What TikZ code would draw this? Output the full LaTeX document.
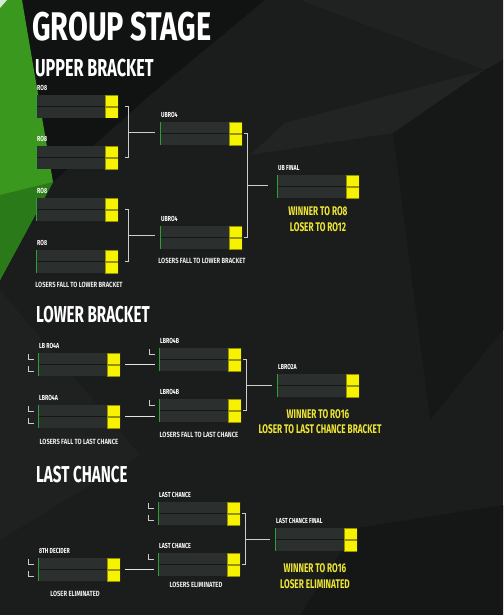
\documentclass[tikz,border=0pt]{standalone}
\usepackage{fontspec}
\setmainfont{Fira Sans}[FakeStretch=0.72]
\newfontfamily\headfont{Fira Sans}[FakeStretch=0.66]
\newfontfamily\notefont{Fira Sans}[FakeStretch=0.78]
\usetikzlibrary{positioning,calc}

\definecolor{bgbase}{HTML}{1B1C1C}
\definecolor{bgblack}{HTML}{111212}
\definecolor{bglight}{HTML}{222424}
\definecolor{barfill}{HTML}{2B2F2E}
\definecolor{gapfill}{HTML}{151716}
\definecolor{yel}{HTML}{F7F300}
\definecolor{yeltext}{HTML}{EDE634}
\definecolor{grn}{HTML}{2E9E36}
\definecolor{bggreen}{HTML}{3A981F}
\definecolor{bggreendark}{HTML}{2B7A1A}
\definecolor{linegray}{HTML}{CDCDCD}

\tikzset{
  match/.style={minimum width=82pt,minimum height=23pt,inner sep=0pt,outer sep=0pt,
    anchor=north west,fill=gapfill,
    path picture={
      \fill[barfill] (path picture bounding box.north west) rectangle ++(69pt,-11pt);
      \fill[barfill] ([yshift=-12pt]path picture bounding box.north west) rectangle ++(69pt,-11pt);
      \filldraw[fill=yel,draw=yel!60!black,line width=0.4pt] ([xshift=69.5pt,yshift=-0.2pt]path picture bounding box.north west) rectangle ++(12.3pt,-10.8pt);
      \filldraw[fill=yel,draw=yel!60!black,line width=0.4pt] ([xshift=69.5pt,yshift=-12pt]path picture bounding box.north west) rectangle ++(12.3pt,-10.8pt);
      \draw[grn,line width=1pt] ([xshift=0.5pt]path picture bounding box.north west) -- ++(0,-23pt);
    }},
  lbl/.style={anchor=south west,inner sep=0pt,label distance=0pt,xshift=1pt,yshift=4.5pt,text=white,font=\bfseries\fontsize{7.3}{8}\selectfont},
  note/.style={inner sep=0pt,text=white!92!black,font=\notefont\bfseries\fontsize{7.5}{8}\selectfont},
  result/.style={inner sep=0pt,text=yeltext,font=\headfont\bfseries\fontsize{12.5}{13}\selectfont},
  heading/.style={anchor=west,inner sep=0pt,text=white,font=\headfont\bfseries\fontsize{24.5}{26}\selectfont},
  link/.style={draw=linegray,line width=0.8pt},
  wlink/.style={draw=white!90!black,line width=1.2pt},
  lmark/.style={draw=linegray,line width=0.7pt}
}

% L mark in front of a row of a match
\newcommand{\lrow}[2]{\draw[lmark] ([xshift=-10pt,yshift=#2]#1.north west) |- ++(6pt,-5pt);}

\begin{document}
\begin{tikzpicture}[x=1pt,y=-1pt]
\useasboundingbox (0,0) rectangle (503,615);
% background
\fill[bgbase] (0,0) rectangle (503,615);
\fill[bgblack] (20,0) -- (265,0) -- (150,95) -- (53,182) -- cycle;
\fill[bglight] (250,155) -- (285,123) -- (485,70) -- (393,133) -- cycle;
\fill[bglight!70!bgbase] (300,0) -- (503,0) -- (503,60) -- (485,70) -- cycle;
\fill[bgblack!50!bgbase] (393,133) -- (485,70) -- (503,60) -- (503,330) -- (430,420) -- cycle;
\fill[bglight!60!bgbase] (0,290) -- (140,455) -- (0,540) -- cycle;
\fill[bgblack!60!bgbase] (357,528) -- (503,505) -- (503,615) -- (300,615) -- cycle;
\fill[bggreen] (0,0) -- (22,0) -- (53,182) -- (0,280) -- cycle;
\fill[bggreendark] (0,195) -- (53,182) -- (0,280) -- cycle;
\fill[white!80!bggreen] (0,0) -- (7,0) -- (0,8) -- cycle;

% titles
\node[heading,font=\bfseries\fontsize{40}{42}\selectfont] (title) at (32,27) {GROUP STAGE};
\node[heading] (upper) at (35,68.5) {UPPER BRACKET};
\node[heading,font=\headfont\bfseries\fontsize{23}{24}\selectfont] (lower) at (36,314.5) {LOWER BRACKET};
\node[heading,font=\headfont\bfseries\fontsize{23}{24}\selectfont] (last) at (36,474.5) {LAST CHANCE};

% upper bracket
\node[match,label={[lbl]north west:RO8}] (ub1) at (36,95) {};
\node[match,label={[lbl]north west:RO8}] (ub2) at (36,146) {};
\node[match,label={[lbl]north west:RO8}] (ub3) at (36,198) {};
\node[match,label={[lbl]north west:RO8}] (ub4) at (36,250) {};
\node[match,label={[lbl]north west:UBRO4}] (uq1) at (160,122) {};
\node[match,label={[lbl]north west:UBRO4}] (uq2) at (160,226) {};
\node[match,label={[lbl]north west:UB FINAL}] (uf) at (277,175) {};

\draw[link] ([xshift=7pt]ub1.east) -| ([xshift=10pt]ub2.east) coordinate (ub2r) -- ([xshift=7pt]ub2.east);
\draw[link] ([xshift=10pt]ub1.east) coordinate (ub1r);
\coordinate (b1) at ($(ub1r)!0.5!(ub2r)$);
\draw[link,shorten >=5pt] (b1) -- (b1 -| uq1.west);
\draw[link] ([xshift=7pt]ub3.east) -| ([xshift=10pt]ub4.east) coordinate (ub4r) -- ([xshift=7pt]ub4.east);
\coordinate (b2) at ($([xshift=10pt]ub3.east)!0.5!(ub4r)$);
\draw[link,shorten >=5pt] (b2) -- (b2 -| uq2.west);
\draw[link] ([xshift=2pt]uq1.east) -| ([xshift=5pt]uq2.east) coordinate (uq2r) -- ([xshift=2pt]uq2.east);
\coordinate (b3) at ($([xshift=5pt]uq1.east)!0.5!(uq2r)$);
\draw[link,shorten >=9pt] (b3) -- (b3 -| uf.west);

\node[note] (ubn1) at (79,285) {LOSERS FALL TO LOWER BRACKET};
\node[note] (ubn2) at (202,261) {LOSERS FALL TO LOWER BRACKET};
\node[result] (ubw) at (318,211) {WINNER TO RO8};
\node[result] (ubl) at (318,227) {LOSER TO RO12};

% lower bracket
\node[match,label={[lbl]north west:LB RO4A}] (lb1) at (38,353) {};
\node[match,label={[lbl]north west:LBRO4A}] (lb2) at (38,405) {};
\node[match,label={[lbl]north west:LBRO4B}] (lq1) at (159,348) {};
\node[match,label={[lbl]north west:LBRO4B}] (lq2) at (159,399) {};
\node[match,label={[lbl]north west:LBRO2A}] (lf) at (277,374) {};
\lrow{lb1}{-1pt} \lrow{lb1}{-13pt}
\lrow{lb2}{-1pt} \lrow{lb2}{-13pt}
\lrow{lq1}{-1pt}
\lrow{lq2}{-1pt}

\draw[wlink,shorten <=5pt,shorten >=4pt] (lb1.east) -- (lb1.east -| lq1.west);
\draw[wlink,shorten <=5pt,shorten >=4pt] (lb2.east) -- (lb2.east -| lq2.west);
\draw[link] ([xshift=2pt]lq1.east) -| ([xshift=5pt]lq2.east) coordinate (lq2r) -- ([xshift=2pt]lq2.east);
\coordinate (b4) at ($([xshift=5pt]lq1.east)!0.5!(lq2r)$);
\draw[link,shorten >=5pt] (b4) -- (b4 -| lf.west);

\node[note] (lbn1) at (79,442) {LOSERS FALL TO LAST CHANCE};
\node[note] (lbn2) at (199,435) {LOSERS FALL TO LAST CHANCE};
\node[result] (lbw) at (318,414) {WINNER TO RO16};
\node[result] (lbl) at (320,429) {LOSER TO LAST CHANCE BRACKET};

% last chance
\node[match,label={[lbl]north west:LAST CHANCE}] (lc1) at (158,502) {};
\node[match,label={[lbl]north west:LAST CHANCE}] (lc2) at (158,553) {};
\node[match,label={[lbl]north west:8TH DECIDER}] (ed) at (38,558) {};
\node[match,label={[lbl]north west:LAST CHANCE FINAL}] (lcf) at (275,528) {};
\lrow{lc1}{-1pt} \lrow{lc1}{-13pt}
\lrow{lc2}{-1pt}
\lrow{ed}{-1pt} \lrow{ed}{-13pt}

\draw[wlink,shorten <=5pt,shorten >=4pt] (ed.east) -- (ed.east -| lc2.west);
\draw[link] ([xshift=2pt]lc1.east) -| ([xshift=5pt]lc2.east) coordinate (lc2r) -- ([xshift=2pt]lc2.east);
\coordinate (b5) at ($([xshift=5pt]lc1.east)!0.5!(lc2r)$);
\draw[link,shorten >=5pt] (b5) -- (b5 -| lcf.west);

\node[note] (lcn1) at (75,594) {LOSER ELIMINATED};
\node[note] (lcn2) at (196,585) {LOSERS ELIMINATED};
\node[result] (lcw) at (315,568) {WINNER TO RO16};
\node[result] (lcl) at (315,584) {LOSER ELIMINATED};
\end{tikzpicture}
\end{document}
